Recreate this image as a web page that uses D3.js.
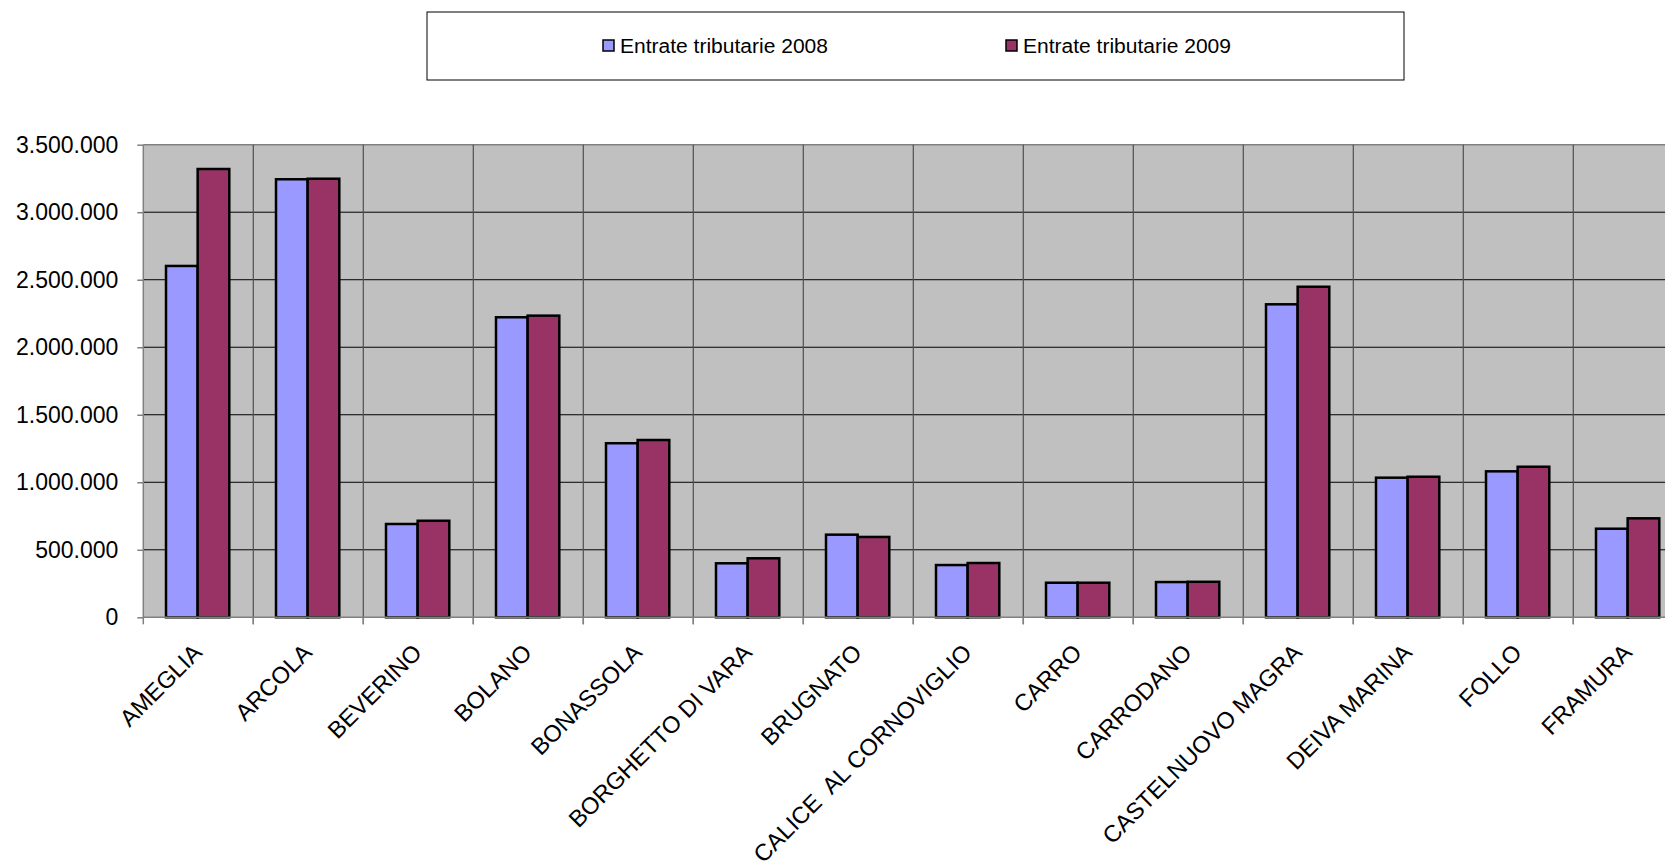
<!DOCTYPE html>
<html>
<head>
<meta charset="utf-8">
<script src="https://cdn.jsdelivr.net/npm/d3@7"></script>
<style>
  html, body { margin: 0; padding: 0; background: #ffffff; }
  svg { display: block; font-family: "Liberation Sans", Arial, sans-serif; }
</style>
</head>
<body>
<svg id="chart" width="1665" height="866"></svg>
<script>
const categories = ["AMEGLIA", "ARCOLA", "BEVERINO", "BOLANO", "BONASSOLA", "BORGHETTO DI VARA", "BRUGNATO", "CALICE  AL CORNOVIGLIO", "CARRO", "CARRODANO", "CASTELNUOVO MAGRA", "DEIVA MARINA", "FOLLO", "FRAMURA"];
const seriesNames = ["Entrate tributarie 2008", "Entrate tributarie 2009"];
const values2008 = [2602000, 3244000, 691000, 2222000, 1289000, 400000, 612000, 387000, 256000, 261000, 2318000, 1034000, 1081000, 656000];
const values2009 = [3320000, 3248000, 715000, 2234000, 1313000, 437000, 595000, 402000, 256000, 263000, 2448000, 1041000, 1115000, 733000];
const yTicks = [0, 500000, 1000000, 1500000, 2000000, 2500000, 3000000, 3500000];

const colors = ["#9999FF", "#993366"];
const svg = d3.select("#chart");

const plot = { left: 143.3, top: 144.7, bottom: 617.3, band: 110 };
plot.right = plot.left + plot.band * categories.length;

const x = d3.scaleBand().domain(categories).range([plot.left, plot.right]).padding(0);
const x1 = d3.scaleBand().domain(seriesNames).range([22.7, 86]).padding(0);
const y = d3.scaleLinear().domain([0, 3500000]).range([plot.bottom, plot.top]);

const it = d3.formatLocale({ decimal: ",", thousands: ".", grouping: [3], currency: ["", " €"] });
const fmt = it.format(",d");

// plot background
svg.append("rect")
  .attr("x", plot.left).attr("y", plot.top)
  .attr("width", plot.right - plot.left).attr("height", plot.bottom - plot.top)
  .attr("fill", "#C0C0C0");

// horizontal gridlines
svg.append("g").selectAll("line").data(yTicks.slice(1)).join("line")
  .attr("x1", plot.left).attr("x2", plot.right)
  .attr("y1", d => y(d)).attr("y2", d => y(d))
  .attr("stroke", d => d === 3500000 ? "#808080" : "#000")
  .attr("stroke-width", d => d === 3500000 ? 1.5 : 1);

// vertical gridlines at category boundaries
svg.append("g").selectAll("line").data(categories.slice(1)).join("line")
  .attr("x1", d => x(d)).attr("x2", d => x(d))
  .attr("y1", plot.top).attr("y2", plot.bottom + 7)
  .attr("stroke", "#505050").attr("stroke-width", 1.2);

// bars
const data = categories.map((c, i) => ({ cat: c, vals: [values2008[i], values2009[i]] }));
const groups = svg.append("g").selectAll("g").data(data).join("g")
  .attr("transform", d => `translate(${x(d.cat)},0)`);
groups.selectAll("rect").data(d => d.vals.map((v, j) => ({ name: seriesNames[j], v, j }))).join("rect")
  .attr("x", d => x1(d.name))
  .attr("width", x1.bandwidth())
  .attr("y", d => y(d.v))
  .attr("height", d => y(0) - y(d.v))
  .attr("fill", d => colors[d.j])
  .attr("stroke", "#000")
  .attr("stroke-width", 2.5);

// y axis
const yAxis = d3.axisLeft(y).tickValues(yTicks).tickFormat(fmt).tickSize(6).tickPadding(19);
const ya = svg.append("g").attr("transform", `translate(${plot.left},0)`).call(yAxis);
ya.select(".domain").attr("stroke", "#808080").attr("stroke-width", 1.5).attr("d", `M0,${plot.top}V${plot.bottom}`);
ya.selectAll(".tick line").attr("stroke", "#808080").attr("stroke-width", 1.5);
ya.selectAll(".tick text").attr("font-size", 23).attr("fill", "#000")
  .attr("font-family", "'Liberation Sans', Arial, sans-serif");

// x axis line and ticks
svg.append("line").attr("x1", plot.left).attr("x2", plot.right)
  .attr("y1", plot.bottom).attr("y2", plot.bottom)
  .attr("stroke", "#808080").attr("stroke-width", 1.5);
svg.append("g").selectAll("line").data(categories).join("line")
  .attr("x1", d => x(d)).attr("x2", d => x(d))
  .attr("y1", plot.bottom).attr("y2", plot.bottom + 7)
  .attr("stroke", "#808080").attr("stroke-width", 1.5);

// x labels
svg.append("g").selectAll("text").data(categories).join("text")
  .attr("transform", d => `translate(${x(d) + x.bandwidth() / 2 + 5},654) rotate(-45)`)
  .attr("text-anchor", "end")
  .attr("font-size", 23.5)
  .attr("fill", "#000")
  .style("white-space", "pre")
  .attr("xml:space", "preserve")
  .text(d => d);

// legend
const lg = svg.append("g");
lg.append("rect").attr("x", 427).attr("y", 12).attr("width", 977).attr("height", 68)
  .attr("fill", "#fff").attr("stroke", "#000").attr("stroke-width", 1);
const legendX = [603, 1006];
seriesNames.forEach((n, i) => {
  lg.append("rect").attr("x", legendX[i]).attr("y", 40).attr("width", 11).attr("height", 11)
    .attr("fill", colors[i]).attr("stroke", "#000").attr("stroke-width", 1.5);
  lg.append("text").attr("x", legendX[i] + 17).attr("y", 53)
    .attr("font-size", 20).attr("fill", "#000")
    .attr("textLength", 208).attr("lengthAdjust", "spacingAndGlyphs")
    .text(n);
});
</script>
</body>
</html>
